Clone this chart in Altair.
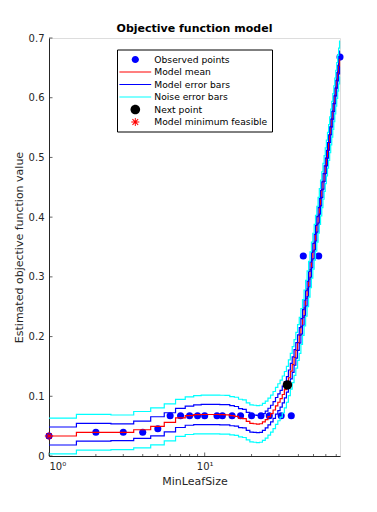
import altair as alt
import pandas as pd

# ---------------- data ----------------
min_leaf_size = list(range(1, 75))

model_mean = [0.0335, 0.0397, 0.0397, 0.0440, 0.0497, 0.0564, 0.0637, 0.0675, 0.0692, 0.0695,
              0.0695, 0.0695, 0.0692, 0.0690, 0.0675, 0.0664, 0.0635, 0.0625, 0.0580, 0.0545,
              0.0540, 0.0535, 0.0540, 0.0570, 0.0610, 0.0660, 0.0710, 0.0770, 0.0840, 0.0900,
              0.0960, 0.1030, 0.1110, 0.1200, 0.1310, 0.1420, 0.1530, 0.1650, 0.1770, 0.1900,
              0.2020, 0.2170, 0.2320, 0.2480, 0.2640, 0.2800, 0.2960, 0.3120, 0.3280, 0.3430,
              0.3580, 0.3730, 0.3880, 0.4030, 0.4180, 0.4320, 0.4460, 0.4600, 0.4730, 0.4860,
              0.4990, 0.5120, 0.5250, 0.5380, 0.5510, 0.5640, 0.5770, 0.5900, 0.6030, 0.6160,
              0.6290, 0.6410, 0.6530, 0.6650]

model_err = [0.0151, 0.0148, 0.0140, 0.0145, 0.0160, 0.0160, 0.0160, 0.0160, 0.0165, 0.0170,
             0.0170, 0.0170, 0.0170, 0.0170, 0.0168, 0.0165, 0.0160, 0.0155, 0.0150, 0.0145,
             0.0145, 0.0145, 0.0145, 0.0140, 0.0140, 0.0140, 0.0140, 0.0140, 0.0140, 0.0140,
             0.0140, 0.0140, 0.0135, 0.0130, 0.0130, 0.0130, 0.0130, 0.0130, 0.0130, 0.0130,
             0.0130, 0.0130, 0.0130, 0.0130, 0.0130, 0.0130, 0.0130, 0.0130, 0.0130, 0.0130,
             0.0130, 0.0130, 0.0130, 0.0130, 0.0130, 0.0130, 0.0130, 0.0130, 0.0130, 0.0130,
             0.0130, 0.0130, 0.0130, 0.0130, 0.0130, 0.0130, 0.0130, 0.0130, 0.0130, 0.0130,
             0.0130, 0.0130, 0.0130, 0.0130]

noise_err = [0.0300, 0.0300, 0.0290, 0.0305, 0.0310, 0.0310, 0.0310, 0.0315, 0.0320, 0.0325,
             0.0325, 0.0325, 0.0325, 0.0325, 0.0320, 0.0320, 0.0315, 0.0315, 0.0310, 0.0310,
             0.0310, 0.0310, 0.0310, 0.0310, 0.0310, 0.0310, 0.0310, 0.0310, 0.0310, 0.0310,
             0.0310, 0.0310, 0.0305, 0.0300, 0.0300, 0.0300, 0.0300, 0.0300, 0.0300, 0.0300,
             0.0300, 0.0300, 0.0300, 0.0300, 0.0300, 0.0300, 0.0300, 0.0300, 0.0300, 0.0300,
             0.0300, 0.0300, 0.0300, 0.0300, 0.0300, 0.0300, 0.0300, 0.0300, 0.0300, 0.0300,
             0.0300, 0.0300, 0.0300, 0.0300, 0.0300, 0.0300, 0.0300, 0.0300, 0.0300, 0.0300,
             0.0300, 0.0300, 0.0300, 0.0300]

obs_x = [1, 2, 3, 4, 5, 6, 7, 8, 9, 10, 12, 13, 15, 17, 20, 23, 26, 31, 36, 43, 54, 74]
obs_y = [0.0335, 0.0397, 0.0397, 0.0397, 0.0457, 0.0675, 0.0675, 0.0675, 0.0675, 0.0675,
         0.0675, 0.0675, 0.0675, 0.0675, 0.0675, 0.0675, 0.0675, 0.0675, 0.0675, 0.335,
         0.335, 0.668]

next_x = [34]
next_y = [0.119]

minfeas_x = [1]
minfeas_y = [0.0335]

x_major_ticks = [1, 10]
x_minor_ticks = [2, 3, 4, 5, 6, 7, 8, 9, 20, 30, 40, 50, 60, 70]
y_ticks = [0, 0.1, 0.2, 0.3, 0.4, 0.5, 0.6, 0.7]

legend_names = ["Observed points", "Model mean", "Model error bars",
                "Noise error bars", "Next point", "Model minimum feasible"]
legend_colors = ["#0000FF", "#FF0000", "#0000FF", "#00FFFF", "#000000", "#FF0000"]

# ---------------- helpers ----------------
FONT = "DejaVu Sans"
TXT = "#262626"


def step_frame(values, part):
    rows = []
    for n, v in zip(min_leaf_size, values):
        rows.append({"x": max(min_leaf_size[0], n - 0.5), "v": v, "part": part})
    rows.append({"x": min_leaf_size[-1], "v": values[-1], "part": part})
    return pd.DataFrame(rows)


mean_df = step_frame(model_mean, "mean")
model_df = pd.concat([
    step_frame([m + e for m, e in zip(model_mean, model_err)], "upper"),
    step_frame([m - e for m, e in zip(model_mean, model_err)], "lower"),
])
noise_df = pd.concat([
    step_frame([m + e for m, e in zip(model_mean, noise_err)], "upper"),
    step_frame([m - e for m, e in zip(model_mean, noise_err)], "lower"),
])
obs_df = pd.DataFrame({"x": obs_x, "v": obs_y})
next_df = pd.DataFrame({"x": next_x, "v": next_y})
minf_df = pd.DataFrame({"x": minfeas_x, "v": minfeas_y})
xmaj_df = pd.DataFrame({"x": x_major_ticks})
xmin_df = pd.DataFrame({"x": x_minor_ticks})
yt_df = pd.DataFrame({"v": y_ticks})
leg_df = pd.DataFrame({"name": legend_names})

xscale = alt.Scale(type="log", domain=[1, 74], nice=False)
yscale = alt.Scale(domain=[0, 0.7], nice=False, zero=False)

xaxis = alt.Axis(values=[1, 10], labelExpr="datum.value == 1 ? '10⁰' : '10¹'",
                 ticks=False, grid=False, labelPadding=5, titlePadding=4,
                 domainColor=TXT, labelColor=TXT, titleColor=TXT,
                 labelFont=FONT, titleFont=FONT, labelFontSize=10, titleFontSize=11,
                 titleFontWeight="normal")
yaxis = alt.Axis(values=y_ticks,
                 labelExpr="datum.value == 0 ? '0' : format(datum.value, '.1f')",
                 ticks=False, grid=False, labelPadding=5, titlePadding=4,
                 domainColor=TXT, labelColor=TXT, titleColor=TXT,
                 labelFont=FONT, titleFont=FONT, labelFontSize=10, titleFontSize=11,
                 titleFontWeight="normal")
XT = "MinLeafSize"
YT = "Estimated objective function value"


def X(field="x:Q"):
    return alt.X(field, scale=xscale, axis=xaxis, title=XT)


def Y(field="v:Q"):
    return alt.Y(field, scale=yscale, axis=yaxis, title=YT)


obs_layer = alt.Chart(obs_df).mark_circle(color="#0000FF", opacity=1, size=50).encode(
    x=X(), y=Y())

mean_layer = alt.Chart(mean_df).mark_line(color="#FF0000", strokeWidth=1.2,
                                          interpolate="step-after").encode(x=X(), y=Y())

model_layer = alt.Chart(model_df).mark_line(color="#0000FF", strokeWidth=1.2,
                                            interpolate="step-after").encode(
    x=X(), y=Y(), detail="part:N")

noise_layer = alt.Chart(noise_df).mark_line(color="#00FFFF", strokeWidth=1.2,
                                            interpolate="step-after").encode(
    x=X(), y=Y(), detail="part:N")

next_layer = alt.Chart(next_df).mark_circle(color="#000000", opacity=1, size=90).encode(
    x=X(), y=Y())

ASTER = "M0,-1L0,1M-1,0L1,0M-0.7,-0.7L0.7,0.7M-0.7,0.7L0.7,-0.7"
minf_layer = alt.Chart(minf_df).mark_point(shape=ASTER, color="#FF0000", filled=False,
                                           size=70, strokeWidth=1, opacity=1).encode(
    x=X(), y=Y())

y0 = alt.YDatum(0, type="quantitative", scale=yscale, axis=yaxis, title=YT)
x0 = alt.XDatum(1, type="quantitative", scale=xscale, axis=xaxis, title=XT)

xmaj_layer = alt.Chart(xmaj_df).mark_tick(orient="vertical", size=3.5, thickness=1,
                                          color=TXT, yOffset=-1.75).encode(x=X(), y=y0)
xmin_layer = alt.Chart(xmin_df).mark_tick(orient="vertical", size=2, thickness=1,
                                          color=TXT, yOffset=-1).encode(x=X(), y=y0)
ytick_layer = alt.Chart(yt_df).mark_tick(orient="horizontal", size=3.5, thickness=1,
                                         color=TXT, xOffset=1.75).encode(x=x0, y=Y())

# legend symbols (custom paths, unit = sqrt(symbolSize)/2 = 6 px)
LINE = "M-2.65,-0.09L2.65,-0.09L2.65,0.09L-2.65,0.09Z"
DOT = "M0.6,0A0.6,0.6,0,1,1,-0.6,0A0.6,0.6,0,1,1,0.6,0Z"
BIGDOT = "M0.8,0A0.8,0.8,0,1,1,-0.8,0A0.8,0.8,0,1,1,0.8,0Z"
STAR = ("M-0.08,-0.67L0.08,-0.67L0.08,0.67L-0.08,0.67Z"
        "M-0.67,-0.08L0.67,-0.08L0.67,0.08L-0.67,0.08Z"
        "M0.415,-0.532L0.532,-0.415L-0.415,0.532L-0.532,0.415Z"
        "M-0.532,-0.415L-0.415,-0.532L0.532,0.415L0.415,0.532Z")
legend_shapes = [DOT, LINE, LINE, LINE, BIGDOT, STAR]

leg = alt.Legend(title=None, orient="none", legendX=68, legendY=11.5, padding=4,
                 fillColor="white", strokeColor="black",
                 symbolSize=144, symbolStrokeWidth=0, symbolOpacity=1,
                 symbolOffset=8.3, labelOffset=13, rowPadding=0.5,
                 labelFont=FONT, labelFontSize=9.2, labelColor="#000000")

legend_layer = alt.Chart(leg_df).transform_filter("false").mark_point(
    filled=True, opacity=1).encode(
    x=alt.XDatum(1, type="quantitative", scale=xscale, axis=xaxis, title=XT),
    y=alt.YDatum(0, type="quantitative", scale=yscale, axis=yaxis, title=YT),
    color=alt.Color("name:N", scale=alt.Scale(domain=legend_names, range=legend_colors),
                    legend=leg, sort=legend_names),
    shape=alt.Shape("name:N", scale=alt.Scale(domain=legend_names, range=legend_shapes),
                    legend=leg, sort=legend_names),
)

chart = alt.layer(
    obs_layer, mean_layer, model_layer, noise_layer, next_layer, minf_layer,
    xmaj_layer, xmin_layer, ytick_layer, legend_layer
).properties(
    width=291, height=418, autosize="none",
    padding={"left": 49, "top": 38, "right": 37, "bottom": 56},
    title=alt.Title("Objective function model", font=FONT, fontSize=11,
                    fontWeight="bold", color="#000000", anchor="middle", offset=-1),
).configure_view(stroke=None).configure(background="white")

chart.save("out.html", embed_options={"renderer": "svg", "actions": False})
